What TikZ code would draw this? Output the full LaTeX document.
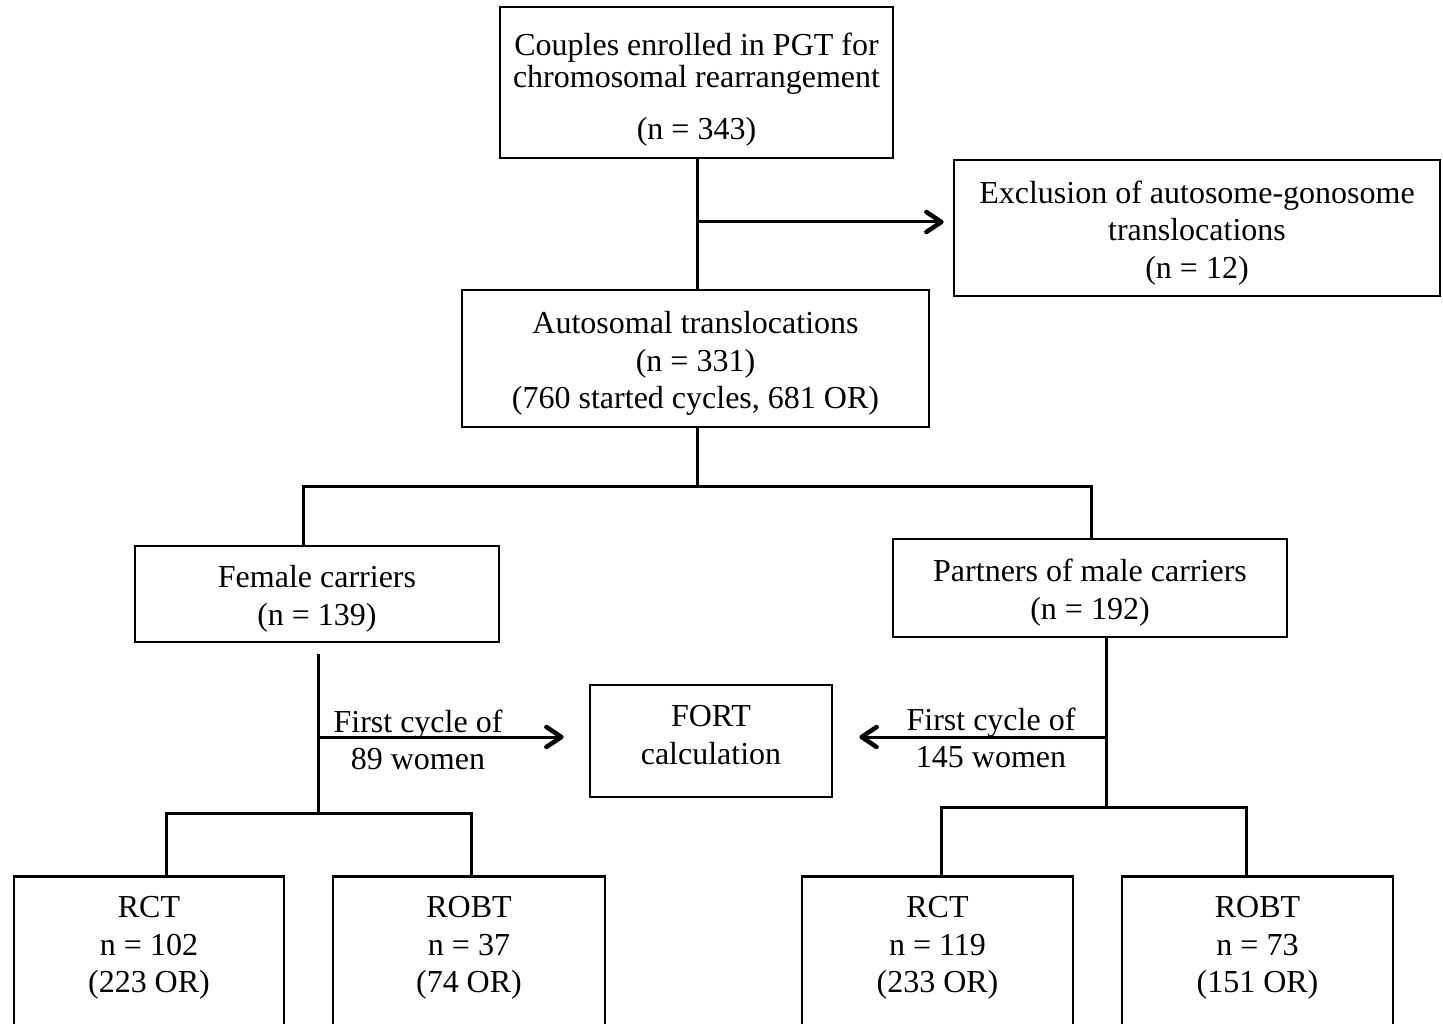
\documentclass[tikz,border=0pt]{standalone}
\usepackage{fontspec}
\setmainfont{Liberation Serif}
\usepackage{tikz}
\usetikzlibrary{arrows.meta}

\newcommand{\alto}[1]{\rule{0pt}{#1}}
\newcommand{\bajo}[1]{\rule[-#1]{0pt}{#1}}

\begin{document}
\begin{tikzpicture}[x=1pt, y=-1pt, line width=3pt,
    every node/.style={font=\fontsize{32}{37.5}\selectfont, align=center},
    caja/.style={draw, line width=2.7pt, inner sep=0pt},
    flecha/.style={-{Straight Barb[length=15pt, width=20pt, line width'=4.5pt, round]}}]
            \useasboundingbox (0,0) rectangle (1443,1024);

            % Cajas
            \node[caja, minimum width=393pt, minimum height=151pt] (couples) at (696.5,82.5) {\alto{37pt}Couples enrolled in PGT for\\[-5.5pt]chromosomal rearrangement\\[14.5pt](n = 343)};
            \node[caja, minimum width=486pt, minimum height=136pt] (exclusion) at (1197,228) {\alto{32pt}Exclusion of autosome-gonosome\\translocations\\(n = 12)};
            \node[caja, minimum width=467pt, minimum height=137pt] (autosomal) at (695.5,358.5) {\alto{32pt}Autosomal translocations\\(n = 331)\\(760 started cycles, 681 OR)};
            \node[caja, minimum width=364pt, minimum height=96pt] (female) at (317,594) {\alto{32pt}Female carriers\\(n = 139)};
            \node[caja, minimum width=394pt, minimum height=98pt] (partners) at (1090,588) {\alto{32pt}Partners of male carriers\\(n = 192)};
            \node[caja, minimum width=242pt, minimum height=112pt] (fort) at (711,741) {FORT\\calculation\bajo{12pt}};
            \node[caja, minimum width=270pt, minimum height=152pt, anchor=north] (rctF) at (149,875) {\alto{32pt}RCT\\n = 102\\(223 OR)\bajo{26pt}};
            \node[caja, minimum width=272pt, minimum height=152pt, anchor=north] (robtF) at (469,875) {\alto{32pt}ROBT\\n = 37\\(74 OR)\bajo{26pt}};
            \node[caja, minimum width=271pt, minimum height=152pt, anchor=north] (rctP) at (937.5,875) {\alto{32pt}RCT\\n = 119\\(233 OR)\bajo{26pt}};
            \node[caja, minimum width=271pt, minimum height=152pt, anchor=north] (robtP) at (1257.5,875) {\alto{32pt}ROBT\\n = 73\\(151 OR)\bajo{26pt}};

            % Textos de las flechas
            \node (labelF) at (418,740) {First cycle of\\89 women};
            \node (labelP) at (991,738) {First cycle of\\145 women};

            % Puntos de union
            \coordinate (jexcl) at (697,222);
            \coordinate (jsplit) at (697,486);
            \coordinate (jfem) at (303,486);
            \coordinate (jpart) at (1091,486);
            \coordinate (jfemarr) at (318,737);
            \coordinate (jfembot) at (318,813);
            \coordinate (jrctF) at (166,813);
            \coordinate (jrobtF) at (471,813);
            \coordinate (jpartarr) at (1106,737);
            \coordinate (jpartbot) at (1106,807);
            \coordinate (jrctP) at (941,807);
            \coordinate (jrobtP) at (1246,807);

            % Conectores
            \draw (couples.south -| jexcl) -- (autosomal.north -| jexcl);
            \draw[flecha, shorten >=9pt] (jexcl) -- (jexcl -| exclusion.west);
            \draw (autosomal.south -| jsplit) -- (jsplit);
            \draw (jfem |- female.north) -- (jfem) -- (jpart) -- (jpart |- partners.north);
            \draw (jfemarr |- female.south) ++(0,11) -- (jfembot);
            \draw[flecha, shorten >=25pt] (jfemarr) -- (jfemarr -| fort.west);
            \draw (jrctF |- rctF.north) -- (jrctF) -- (jrobtF) -- (jrobtF |- robtF.north);
            \draw (jpartarr |- partners.south) -- (jpartbot);
            \draw[flecha, shorten >=26pt] (jpartarr) -- (jpartarr -| fort.east);
            \draw (jrctP |- rctP.north) -- (jrctP) -- (jrobtP) -- (jrobtP |- robtP.north);
\end{tikzpicture}
\end{document}
